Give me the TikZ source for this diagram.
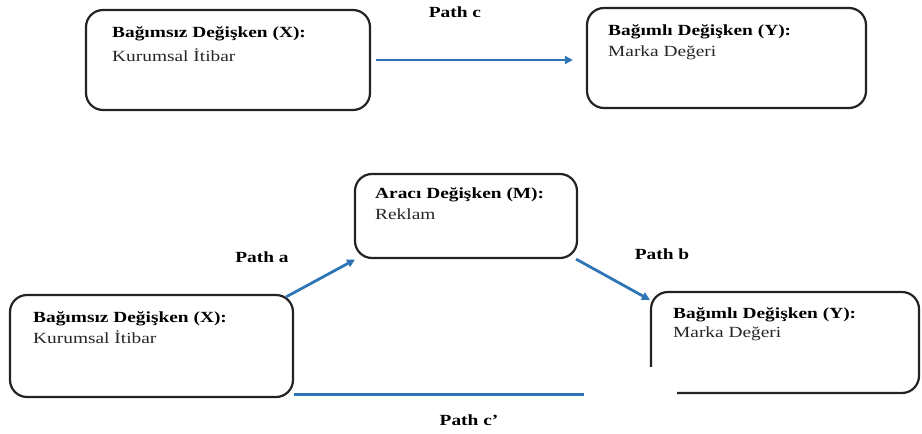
\documentclass[tikz,border=0pt]{standalone}
\usepackage{fontspec}
\setmainfont{Liberation Serif}[FakeStretch=1.25]
\usetikzlibrary{arrows.meta}
\definecolor{arrowblue}{RGB}{46,117,182}
\definecolor{boxline}{RGB}{35,35,35}
\tikzset{
  varbox/.style={draw=boxline, line width=2.2pt, rounded corners=17pt, fill=white, inner sep=0pt},
  hd/.style={anchor=base west, inner sep=0pt, font=\fontsize{15.5}{17}\selectfont\bfseries},
  sub/.style={anchor=base west, inner sep=0pt, font=\fontsize{15.5}{17}\selectfont, text=black!85},
  pathlbl/.style={inner sep=0pt, font=\fontsize{15.5}{17}\selectfont\bfseries},
  conn/.style={draw=arrowblue, line width=2.8pt},
  arr/.style={conn, -{Triangle[length=8pt,width=8pt]}}
}
\begin{document}
\begin{tikzpicture}[x=1pt,y=-1pt]
\useasboundingbox (0,0) rectangle (922,434);
% boxes
\node[varbox, minimum width=284pt, minimum height=100pt] (XT) at (228,60) {};
\node[varbox, minimum width=279pt, minimum height=100pt] (YT) at (726.5,58) {};
\node[varbox, minimum width=222pt, minimum height=84pt] (M) at (466,216) {};
\node[varbox, minimum width=283pt, minimum height=102pt] (XB) at (151.5,346) {};
\node[varbox, minimum width=268pt, minimum height=101pt] (YB) at (785,342.5) {};
% texts
\node[hd] (XTh) at (112,37) {Bağımsız Değişken (X):};
\node[sub] (XTs) at (112,61) {Kurumsal İtibar};
\node[hd] (YTh) at (608,35) {Bağımlı Değişken (Y):};
\node[sub] (YTs) at (608,56) {Marka Değeri};
\node[hd] (Mh) at (375,198) {Aracı Değişken (M):};
\node[sub] (Ms) at (375,219) {Reklam};
\node[hd] (XBh) at (33,322) {Bağımsız Değişken (X):};
\node[sub] (XBs) at (33,343) {Kurumsal İtibar};
\node[hd] (YBh) at (673,318) {Bağımlı Değişken (Y):};
\node[sub] (YBs) at (673,337) {Marka Değeri};
% path labels
\node[pathlbl] (lc) at (455,12) {Path c};
\node[pathlbl] (la) at (262,257) {Path a};
\node[pathlbl] (lb) at (662,254) {Path b};
\node[pathlbl] (lcp) at (469,420) {Path c’};
% connectors
\draw[arr, shorten <=5pt, shorten >=13pt] (XT.east) -- (XT.east -| YT.west);
\draw[arr, shorten >=1pt] ([xshift=-8pt,yshift=-3pt]XB.north east) -- ([xshift=2pt]M.south west);
\draw[arr] ([xshift=-2pt]M.south east) -- ([yshift=-9pt]YB.north west);
\draw[conn] (XB.east |- YB.south) -- (YB.south west);
% white patch covering part of the lower right
\fill[white] (584,367) rectangle (677,412);
\end{tikzpicture}
\end{document}
